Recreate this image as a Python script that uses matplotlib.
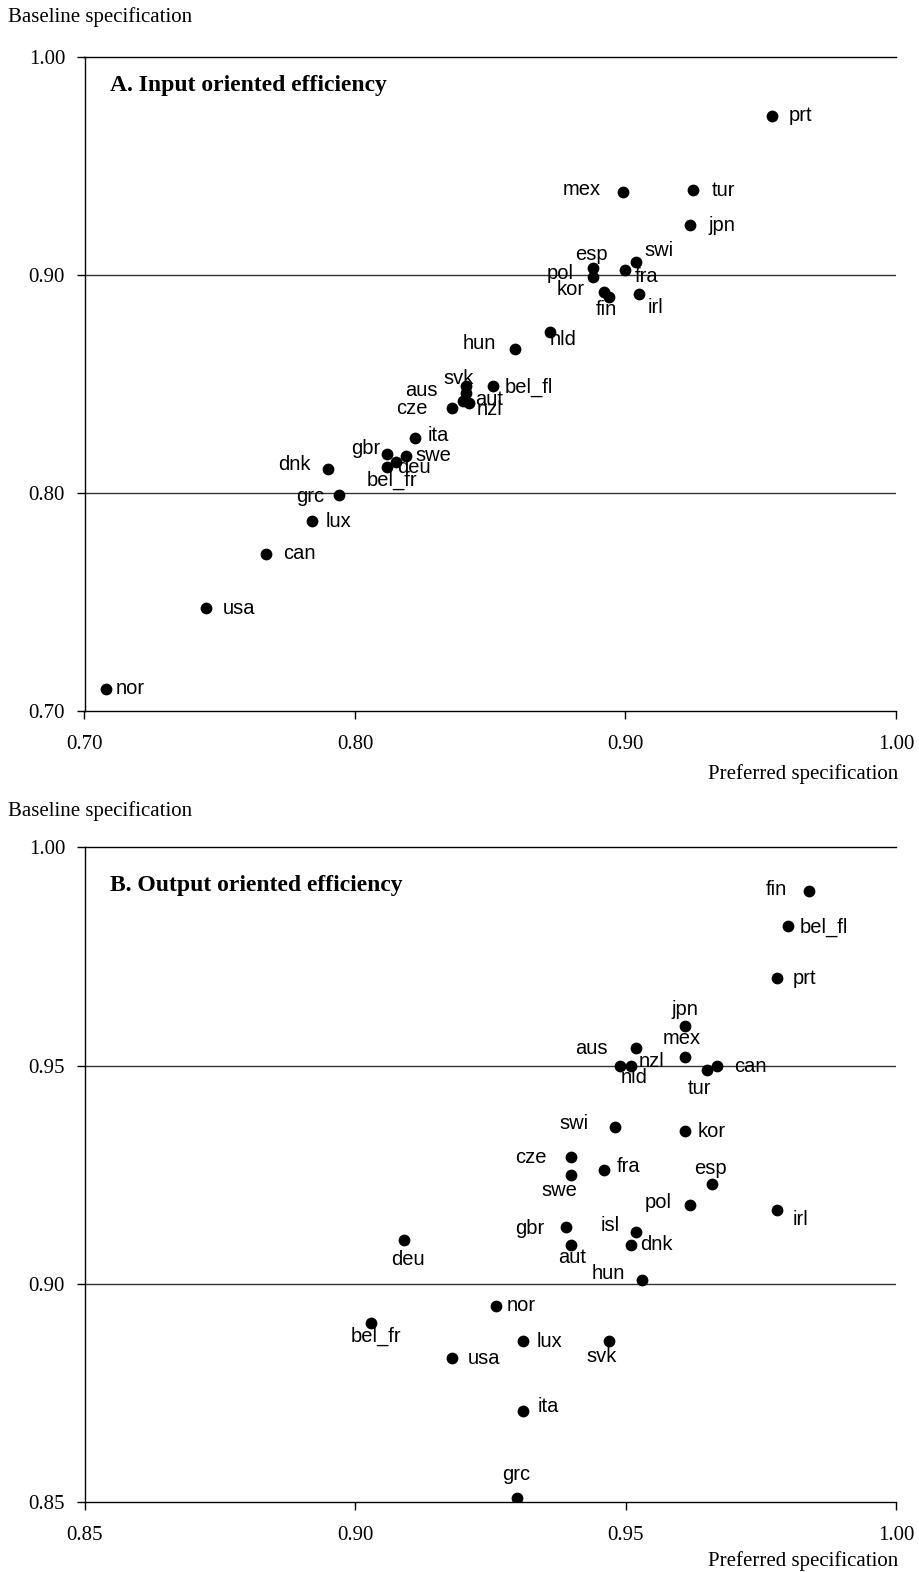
import matplotlib
matplotlib.use("Agg")
import matplotlib.pyplot as plt

# ---------------- data ----------------
# Panel A: input oriented efficiency
countries_a = ["prt", "mex", "tur", "jpn", "swi", "esp", "pol", "fra", "kor", "fin",
               "irl", "nld", "hun", "svk", "aus", "aut", "nzl", "cze", "bel_fl", "ita",
               "gbr", "swe", "deu", "bel_fr", "dnk", "grc", "lux", "can", "usa", "nor"]
preferred_a = [0.954, 0.899, 0.925, 0.924, 0.904, 0.888, 0.888, 0.900, 0.892, 0.894,
               0.905, 0.872, 0.859, 0.841, 0.841, 0.840, 0.842, 0.836, 0.851, 0.822,
               0.812, 0.819, 0.815, 0.812, 0.790, 0.794, 0.784, 0.767, 0.745, 0.708]
baseline_a = [0.973, 0.938, 0.939, 0.923, 0.906, 0.903, 0.899, 0.902, 0.892, 0.890,
              0.891, 0.874, 0.866, 0.849, 0.846, 0.842, 0.841, 0.839, 0.849, 0.825,
              0.818, 0.817, 0.814, 0.812, 0.811, 0.799, 0.787, 0.772, 0.747, 0.710]

# Panel B: output oriented efficiency
countries_b = ["fin", "bel_fl", "prt", "jpn", "aus", "mex", "nld", "nzl", "tur", "can",
               "swi", "kor", "cze", "fra", "swe", "esp", "pol", "irl", "gbr", "isl",
               "aut", "dnk", "hun", "deu", "nor", "bel_fr", "lux", "svk", "usa", "ita", "grc"]
preferred_b = [0.984, 0.980, 0.978, 0.961, 0.952, 0.961, 0.949, 0.951, 0.965, 0.967,
               0.948, 0.961, 0.940, 0.946, 0.940, 0.966, 0.962, 0.978, 0.939, 0.952,
               0.940, 0.951, 0.953, 0.909, 0.926, 0.903, 0.931, 0.947, 0.918, 0.931, 0.930]
baseline_b = [0.990, 0.982, 0.970, 0.959, 0.954, 0.952, 0.950, 0.950, 0.949, 0.950,
              0.936, 0.935, 0.929, 0.926, 0.925, 0.923, 0.918, 0.917, 0.913, 0.912,
              0.909, 0.909, 0.901, 0.910, 0.895, 0.891, 0.887, 0.887, 0.883, 0.871, 0.851]

ticks_a = [0.70, 0.80, 0.90, 1.00]
ticks_b = [0.85, 0.90, 0.95, 1.00]

# ---------------- layout (label offsets in pixels, up positive) ----------------
offsets_a = {
    "prt": (29, 0), "mex": (-41, 2), "tur": (30, -1), "jpn": (31, -1), "swi": (23, 11),
    "esp": (-2, 14), "pol": (-33, 3), "fra": (21, -6), "kor": (-33, 3), "fin": (-3, -13),
    "irl": (16, -13), "nld": (13, -8), "hun": (-35, 5), "svk": (-7, 8), "aus": (-45, 2),
    "aut": (26, 2), "nzl": (21, -6), "cze": (-41, -1), "bel_fl": (36, -1), "ita": (24, 3),
    "gbr": (-22, 5), "swe": (27, 0), "deu": (18, -5), "bel_fr": (5, -14), "dnk": (-34, 4),
    "grc": (-29, -1), "lux": (27, 0), "can": (34, 0), "usa": (33, 0), "nor": (24, 1),
}
offsets_b = {
    "fin": (-33, 1), "bel_fl": (36, -1), "prt": (28, 0), "jpn": (0, 17), "aus": (-45, 0),
    "mex": (-3, 18), "nld": (14, -12), "nzl": (21, 4), "tur": (-7, -19), "can": (33, -1),
    "swi": (-41, 3), "kor": (27, 0), "cze": (-41, 0), "fra": (25, 4), "swe": (-12, -16),
    "esp": (-2, 15), "pol": (-32, 3), "irl": (24, -10), "gbr": (-36, -1), "isl": (-26, 6),
    "aut": (1, -13), "dnk": (25, 0), "hun": (-33, 6), "deu": (4, -19), "nor": (26, 0),
    "bel_fr": (5, -13), "lux": (27, -1), "svk": (-8, -16), "usa": (32, 0), "ita": (26, 4),
    "grc": (-1, 23),
}

W, H = 919, 1572
fig = plt.figure(figsize=(W / 100, H / 100), dpi=100)
fig.patch.set_facecolor("white")

SERIF = ["Liberation Serif", "DejaVu Serif"]
SANS = ["Liberation Sans", "DejaVu Sans"]

title_y = {"A. Input oriented efficiency": 85, "B. Output oriented efficiency": 886}


def make_panel(rect, xs, ys, names, offs, ticks, title, base_y_px, pref_y_px):
    ax = fig.add_axes(rect)
    lo, hi = ticks[0], ticks[-1]
    ax.set_xlim(lo, hi)
    ax.set_ylim(lo, hi)
    ax.set_xticks(ticks)
    ax.set_yticks(ticks)
    ax.set_xticklabels([f"{t:.2f}" for t in ticks], fontfamily=SERIF, fontsize=15)
    ax.set_yticklabels([f"{t:.2f}" for t in ticks], fontfamily=SERIF, fontsize=15)
    ax.tick_params(axis="x", direction="out", length=6, width=1, pad=11, color="black")
    ax.tick_params(axis="y", direction="out", length=6, width=1, pad=8, color="black")
    ax.spines["right"].set_visible(False)
    for s in ["left", "bottom", "top"]:
        ax.spines[s].set_color("black")
        ax.spines[s].set_linewidth(1)
    for t in ticks[1:-1]:
        ax.axhline(t, color="#333333", lw=1, zorder=1)
    ax.scatter(xs, ys, s=72, color="black", zorder=3, linewidths=0)
    for n, x, y in zip(names, xs, ys):
        dx, dy = offs[n]
        ax.annotate(n, (x, y), xytext=(dx, dy), textcoords="offset pixels",
                    ha="center", va="center", fontfamily=SANS, fontsize=14.5,
                    color="black", zorder=4)
    fig.text(110 / W, 1 - title_y[title] / H, title, fontfamily=SERIF, fontsize=17,
             fontweight="bold", ha="left", va="center")
    fig.text(8 / W, 1 - base_y_px / H, "Baseline specification", fontfamily=SERIF,
             fontsize=15, ha="left", va="center")
    fig.text(898 / W, 1 - pref_y_px / H, "Preferred specification", fontfamily=SERIF,
             fontsize=15, ha="right", va="center")
    return ax


left = 84.5 / W
width = 811.5 / W
axA = make_panel([left, 1 - 711 / H, width, 654.3 / H], preferred_a, baseline_a,
                 countries_a, offsets_a, ticks_a, "A. Input oriented efficiency", 17, 774)
axB = make_panel([left, 1 - 1502.3 / H, width, 655 / H], preferred_b, baseline_b,
                 countries_b, offsets_b, ticks_b, "B. Output oriented efficiency", 811, 1561)

fig.savefig("out.png", dpi=100, facecolor="white")
